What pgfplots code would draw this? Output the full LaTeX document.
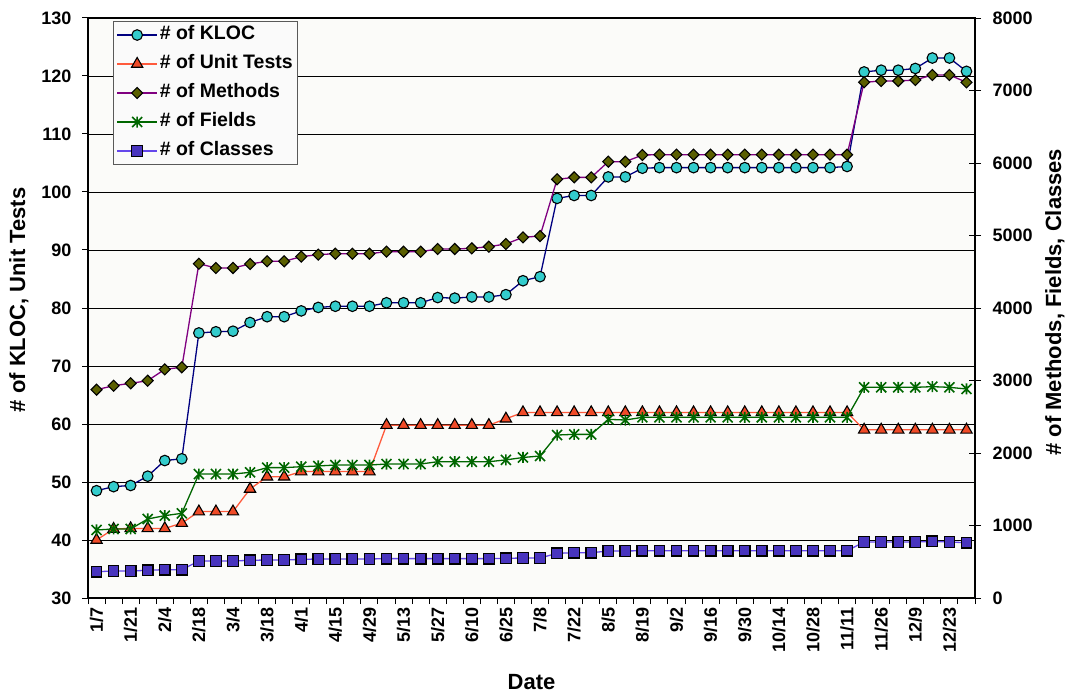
\documentclass[border=0pt]{standalone}
\usepackage{pgfplots}
\pgfplotsset{compat=1.18}
\usepackage{pgfplotstable}
\usepackage{fontspec}
\setmainfont{Liberation Sans}

\definecolor{klocline}{RGB}{0,0,128}
\definecolor{klocfill}{RGB}{51,204,204}
\definecolor{testline}{RGB}{255,90,60}
\definecolor{testfill}{RGB}{240,75,40}
\definecolor{methline}{RGB}{128,0,128}
\definecolor{methfill}{RGB}{90,95,0}
\definecolor{fieldcol}{RGB}{0,102,0}
\definecolor{classline}{RGB}{100,70,235}
\definecolor{classfill}{RGB}{72,52,190}
\definecolor{plotbg}{RGB}{251,251,249}

\newcommand\tickfont{\fontsize{18}{20}\selectfont\bfseries}
\newcommand\legfont{\fontsize{19.5}{21}\selectfont\bfseries}
\newcommand\titlefont{\fontsize{22}{24}\selectfont\bfseries}

% Excel style star: an x with a vertical bar
\pgfdeclareplotmark{xstar}{%
  \pgfpathmoveto{\pgfqpoint{-\pgfplotmarksize}{-\pgfplotmarksize}}%
  \pgfpathlineto{\pgfqpoint{\pgfplotmarksize}{\pgfplotmarksize}}%
  \pgfpathmoveto{\pgfqpoint{-\pgfplotmarksize}{\pgfplotmarksize}}%
  \pgfpathlineto{\pgfqpoint{\pgfplotmarksize}{-\pgfplotmarksize}}%
  \pgfpathmoveto{\pgfqpoint{0pt}{-1.1\pgfplotmarksize}}%
  \pgfpathlineto{\pgfqpoint{0pt}{1.1\pgfplotmarksize}}%
  \pgfusepathqstroke}

\pgfplotsset{
  kloc/.style={color=klocline, line width=1.3pt, mark=*, mark size=5.3pt,
    mark options={draw=black, fill=klocfill, line width=1.1pt}},
  tests/.style={color=testline, line width=1.3pt, mark=triangle*, mark size=6.5pt,
    mark options={draw=black, fill=testfill, line width=1.1pt}},
  methods/.style={color=methline, line width=1.3pt, mark=square*, mark size=3.9pt,
    mark options={rotate=45, draw=black, fill=methfill, line width=1.1pt}},
  fields/.style={color=fieldcol, line width=1.3pt, mark=xstar, mark size=5pt,
    mark options={line width=1.6pt}},
  classes/.style={color=classline, line width=1.3pt, mark=square*, mark size=5.3pt,
    mark options={draw=black, fill=classfill, line width=1.2pt}},
}

% weekly snapshots, index 0 = 1/7
\pgfplotstableread{
i kloc tests methods fields classes
0 48.5 40.0 2873 938 363
1 49.2 41.9 2928 952 372
2 49.4 42.0 2961 952 372
3 51.0 42.0 2997 1090 382
4 53.7 42.0 3154 1136 391
5 54.0 42.9 3182 1168 391
6 75.7 44.9 4611 1710 510
7 75.9 44.9 4552 1710 510
8 76.0 44.9 4552 1710 510
9 77.5 48.8 4607 1733 520
10 78.5 50.9 4644 1798 524
11 78.5 50.9 4644 1798 524
12 79.5 51.8 4708 1811 533
13 80.1 51.8 4736 1821 538
14 80.3 51.8 4749 1834 538
15 80.3 51.8 4749 1834 538
16 80.3 51.8 4749 1834 538
17 80.9 59.8 4777 1848 543
18 80.9 59.8 4777 1848 543
19 80.9 59.8 4777 1848 543
20 81.8 59.8 4814 1880 543
21 81.7 59.8 4814 1880 543
22 81.9 59.8 4823 1880 543
23 81.9 59.8 4846 1880 543
24 82.3 60.9 4883 1905 547
25 84.7 62.0 4975 1938 552
26 85.4 62.0 4993 1959 552
27 98.9 62.0 5775 2248 616
28 99.4 62.0 5802 2257 625
29 99.4 62.0 5802 2257 625
30 102.6 62.0 6018 2464 648
31 102.6 62.0 6018 2455 648
32 104.1 62.0 6110 2492 653
33 104.2 62.0 6115 2492 653
34 104.2 62.0 6115 2492 653
35 104.2 62.0 6115 2492 653
36 104.2 62.0 6115 2492 653
37 104.2 62.0 6115 2492 653
38 104.2 62.0 6115 2492 653
39 104.2 62.0 6115 2492 653
40 104.2 62.0 6115 2492 653
41 104.2 62.0 6115 2492 653
42 104.2 62.0 6115 2492 653
43 104.2 62.0 6115 2492 653
44 104.4 62.0 6115 2492 653
45 120.7 59.0 7113 2906 772
46 121.0 59.0 7131 2906 772
47 121.0 59.0 7131 2906 772
48 121.3 59.0 7145 2906 772
49 123.1 59.0 7214 2915 781
50 123.1 59.0 7214 2906 772
51 120.8 59.0 7113 2883 763
}\metrics

\begin{document}
\begin{tikzpicture}
\useasboundingbox (0,0) rectangle (1067pt,694pt);
\begin{axis}[
  at={(88pt,96pt)}, anchor=south west,
  width=887pt, height=580pt, scale only axis,
  xmin=-0.5, xmax=51.5, ymin=30, ymax=130,
  ytick={30,40,...,130},
  xtick={-0.5,0.5,...,51.5},
  xticklabels={},
  extra x ticks={0,2,...,50},
  extra x tick labels={1/7,1/21,2/4,2/18,3/4,3/18,4/1,4/15,4/29,5/13,5/27,6/10,6/25,
    7/8,7/22,8/5,8/19,9/2,9/16,9/30,10/14,10/28,11/11,11/26,12/9,12/23},
  extra x tick style={major tick length=0pt,
    xticklabel style={yshift=-6pt, rotate=90, anchor=east}},
  xtick pos=left, ytick pos=left,
  tick align=outside, major tick length=6pt,
  tick style={black, line width=1pt},
  axis line style={black, line width=1.3pt},
  axis background/.style={fill=plotbg},
  ymajorgrids, major grid style={black, line width=0.7pt},
  tick label style={font=\tickfont},
  /pgf/number format/assume math mode=true,
  yticklabel style={xshift=-7pt},
  xlabel={Date},
  xlabel style={font=\titlefont, at={(axis description cs:0.5,-0.157)}, anchor=base},
  ylabel={\# of KLOC, Unit Tests},
  ylabel style={font=\titlefont, at={(axis description cs:-0.078,0.514)}, anchor=center},
  legend style={at={(axis description cs:0.0282,0.9948)}, anchor=north west,
    draw=black!65, line width=1pt, fill=white!98!black, font=\legfont,
    inner xsep=3pt, inner ysep=3pt, row sep=8pt,
    nodes={inner xsep=2pt, inner ysep=2pt, text height=13pt, text depth=4pt}},
  legend cell align=left,
  legend image code/.code={\draw[mark repeat=2, mark phase=2]
    plot coordinates {(0pt,0pt) (20pt,0pt) (40pt,0pt)};},
]
\addplot[kloc] table[x=i, y=kloc] {\metrics};
\addlegendentry{\# of KLOC}
\addplot[tests] table[x=i, y=tests] {\metrics};
\addlegendentry{\# of Unit Tests}
\addlegendimage{methods}
\addlegendentry{\# of Methods}
\addlegendimage{fields}
\addlegendentry{\# of Fields}
\addlegendimage{classes}
\addlegendentry{\# of Classes}
\end{axis}

\begin{axis}[
  at={(88pt,96pt)}, anchor=south west,
  width=887pt, height=580pt, scale only axis,
  xmin=-0.5, xmax=51.5, ymin=0, ymax=8000,
  axis x line=none, axis y line*=right,
  ytick={0,1000,...,8000},
  tick align=center, major tick length=12pt,
  tick style={black, line width=1pt},
  axis line style={black, line width=1.3pt},
  scaled y ticks=false,
  tick label style={font=\tickfont},
  /pgf/number format/assume math mode=true,
  yticklabel style={/pgf/number format/1000 sep={}, xshift=8pt},
  ylabel={\# of Methods, Fields, Classes},
  ylabel style={font=\titlefont, at={(axis description cs:1.090,0.51)}, anchor=center},
]
\addplot[methods] table[x=i, y=methods] {\metrics};
\addplot[fields] table[x=i, y=fields] {\metrics};
\addplot[classes] table[x=i, y=classes] {\metrics};
\end{axis}
\end{tikzpicture}
\end{document}
